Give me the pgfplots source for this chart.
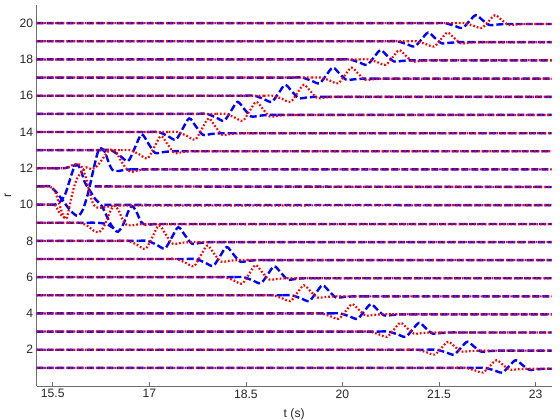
\documentclass[border=0pt]{standalone}
\usepackage{pgfplots}
\pgfplotsset{compat=1.18}
\usepackage{fontspec}
\setmainfont{Liberation Sans}
\definecolor{axgray}{RGB}{110,110,110}
\definecolor{txt}{RGB}{38,38,38}
\begin{document}
\begin{tikzpicture}
\tikzset{bl/.style={color=blue, line width=2.4bp, dash pattern=on 7bp off 3bp},
         rd/.style={color=red, line width=2.2bp, dash pattern=on 1.7bp off 2bp}}
\begin{axis}[
 scale only axis, width=515bp, height=381bp,
 xmin=15.25, xmax=23.25, ymin=0, ymax=21,
 axis lines*=left,
 axis line style={axgray, line width=0.8bp},
 xtick={15.5,17,18.5,20,21.5,23},
 xticklabels={15.5,17,18.5,20,21.5,23},
 ytick={2,4,...,20},
 tick align=inside,
 major tick length=4bp,
 tick style={axgray, line width=0.8bp},
 ticklabel style={font=\fontsize{12.2}{14}\selectfont, text=txt},
 /pgf/number format/assume math mode=true,
 xlabel={t (s)}, ylabel={r},
 label style={font=\fontsize{12.2}{14}\selectfont, text=txt},
 xlabel style={at={(axis description cs:0.5,-0.074)}, anchor=center},
 ylabel style={at={(axis description cs:-0.056,0.5)}, anchor=center},
 unbounded coords=jump,
 clip=true,
 no markers,
]
% ---------------- blue flat segments
\addplot[bl] coordinates {
(15.25,1) (22.07,1) (16,nan)
(15.25,2) (21.32,2) (16,nan) (22.56,1.95) (23.4,1.95) (16,nan)
(15.25,3) (20.57,3) (16,nan) (21.81,2.95) (23.4,2.95) (16,nan)
(15.25,4) (19.82,4) (16,nan) (21.06,3.95) (23.4,3.95) (16,nan)
(15.25,5) (19.07,5) (16,nan) (20.31,4.94) (23.4,4.94) (16,nan)
(15.25,6) (18.32,6) (16,nan) (19.56,5.94) (23.4,5.94) (16,nan)
(15.25,7) (17.58,7) (16,nan) (18.82,6.94) (23.4,6.94) (16,nan)
(15.25,8) (16.83,8) (16,nan) (18.07,7.93) (23.4,7.93) (16,nan)
(15.25,9) (16.05,9) (16,nan) (17.15,8.93) (23.4,8.93) (16,nan)
(15.25,10) (15.45,10) (16,nan) (16.30,9.98) (23.4,9.97) (16,nan)
(15.25,11) (15.35,11) (16,nan) (16.15,11.0) (23.4,10.97) (16,nan)
(15.25,12) (15.50,12) (16,nan) (16.72,11.94) (23.4,11.94) (16,nan)
(15.25,13) (16.26,13) (16,nan) (17.50,12.94) (23.4,12.94) (16,nan)
(15.25,14) (17.00,14) (16,nan) (18.24,13.93) (23.4,13.93) (16,nan)
(15.25,15) (17.75,15) (16,nan) (18.99,14.94) (23.4,14.94) (16,nan)
(15.25,16) (18.49,16) (16,nan) (19.73,15.94) (23.4,15.94) (16,nan)
(15.25,17) (19.23,17) (16,nan) (20.47,16.94) (23.4,16.94) (16,nan)
(15.25,18) (19.97,18) (16,nan) (21.21,17.95) (23.4,17.95) (16,nan)
(15.25,19) (20.71,19) (16,nan) (21.95,18.95) (23.4,18.95) (16,nan)
(15.25,20) (21.45,20) (16,nan) (22.69,19.95) (23.4,19.95)
};
% ---------------- blue packets
\addplot[bl, smooth] coordinates {(16.26,13) (16.40,13) (16.54,12.7) (16.67,12.4) (16.775,13.135) (16.88,13.87) (16.985,13.36) (17.09,12.85) (17.22,12.895) (17.36,12.94) (17.50,12.94)};
\addplot[bl, smooth] coordinates {(17.00,14) (17.14,14) (17.28,13.79) (17.41,13.58) (17.515,14.165) (17.62,14.75) (17.725,14.30) (17.83,13.85) (17.96,13.89) (18.10,13.93) (18.24,13.93)};
\addplot[bl, smooth] coordinates {(17.75,15) (17.89,15) (18.03,14.81) (18.16,14.62) (18.265,15.14) (18.37,15.66) (18.475,15.26) (18.58,14.86) (18.71,14.90) (18.85,14.94) (18.99,14.94)};
\addplot[bl, smooth] coordinates {(18.49,16) (18.63,16) (18.77,15.83) (18.90,15.66) (19.005,16.13) (19.11,16.60) (19.215,16.235) (19.32,15.87) (19.45,15.905) (19.59,15.94) (19.73,15.94)};
\addplot[bl, smooth] coordinates {(19.23,17) (19.37,17) (19.51,16.84) (19.64,16.68) (19.745,17.115) (19.85,17.55) (19.955,17.215) (20.06,16.88) (20.19,16.91) (20.33,16.94) (20.47,16.94)};
\addplot[bl, smooth] coordinates {(19.97,18) (20.11,18) (20.25,17.85) (20.38,17.70) (20.485,18.105) (20.59,18.51) (20.695,18.20) (20.80,17.89) (20.93,17.92) (21.07,17.95) (21.21,17.95)};
\addplot[bl, smooth] coordinates {(20.71,19) (20.85,19) (20.99,18.855) (21.12,18.71) (21.225,19.095) (21.33,19.48) (21.435,19.185) (21.54,18.89) (21.67,18.92) (21.81,18.95) (21.95,18.95)};
\addplot[bl, smooth] coordinates {(21.45,20) (21.59,20) (21.73,19.865) (21.86,19.73) (21.965,20.085) (22.07,20.44) (22.175,20.17) (22.28,19.90) (22.41,19.925) (22.55,19.95) (22.69,19.95)};
\addplot[bl, smooth] coordinates {(16.83,8) (16.97,8) (17.11,7.79) (17.24,7.58) (17.345,8.165) (17.45,8.75) (17.555,8.30) (17.66,7.85) (17.79,7.89) (17.93,7.93) (18.07,7.93)};
\addplot[bl, smooth] coordinates {(17.58,7) (17.72,7) (17.86,6.81) (17.99,6.62) (18.095,7.14) (18.20,7.66) (18.305,7.26) (18.41,6.86) (18.54,6.90) (18.68,6.94) (18.82,6.94)};
\addplot[bl, smooth] coordinates {(18.32,6) (18.46,6) (18.60,5.83) (18.73,5.66) (18.835,6.13) (18.94,6.60) (19.045,6.235) (19.15,5.87) (19.28,5.905) (19.42,5.94) (19.56,5.94)};
\addplot[bl, smooth] coordinates {(19.07,5) (19.21,5) (19.35,4.84) (19.48,4.68) (19.585,5.115) (19.69,5.55) (19.795,5.215) (19.90,4.88) (20.03,4.91) (20.17,4.94) (20.31,4.94)};
\addplot[bl, smooth] coordinates {(19.82,4) (19.96,4) (20.10,3.85) (20.23,3.70) (20.335,4.105) (20.44,4.51) (20.545,4.20) (20.65,3.89) (20.78,3.92) (20.92,3.95) (21.06,3.95)};
\addplot[bl, smooth] coordinates {(20.57,3) (20.71,3) (20.85,2.855) (20.98,2.71) (21.085,3.095) (21.19,3.48) (21.295,3.185) (21.40,2.89) (21.53,2.92) (21.67,2.95) (21.81,2.95)};
\addplot[bl, smooth] coordinates {(21.32,2) (21.46,2) (21.60,1.865) (21.73,1.73) (21.835,2.085) (21.94,2.44) (22.045,2.17) (22.15,1.90) (22.28,1.925) (22.42,1.95) (22.56,1.95)};
\addplot[bl, smooth] coordinates {(22.07,1) (22.21,1) (22.35,0.87) (22.48,0.74) (22.585,1.08) (22.69,1.42) (22.795,1.16) (22.90,0.90) (23.03,0.925) (23.17,0.95) (23.31,0.95)};
% source region, blue
\addplot[bl, smooth] coordinates {(15.35,11) (15.45,11) (15.55,10.7) (15.66,10.2) (15.78,9.65) (15.89,9.37) (15.97,9.75) (16.05,10.66) (16.13,11.9) (16.20,12.9) (16.25,13.1) (16.31,12.9) (16.37,12.3) (16.43,11.9) (16.52,11.85) (16.62,11.92) (16.72,11.94)};
\addplot[bl, smooth] coordinates {(15.45,10) (15.53,10) (15.61,10.15) (15.69,10.55) (15.76,11.3) (15.82,11.95) (15.875,12.2) (15.93,11.95) (16.00,11.2) (16.08,10.75) (16.16,10.3) (16.26,9.93) (16.34,9.35) (16.42,8.8) (16.51,8.5) (16.60,8.95) (16.67,9.6) (16.73,9.92) (16.80,9.6) (16.87,9.05) (16.95,8.88) (17.05,8.92) (17.15,8.93)};
\addplot[bl, smooth] coordinates {(16.05,9) (16.15,9) (16.25,8.98) (16.35,8.9) (16.45,8.68)};
\addplot[bl, smooth] coordinates {(15.50,12) (15.60,12) (15.70,12.02) (15.78,12.1) (15.86,12.18)};
% ---------------- red flat segments
\addplot[rd] coordinates {
(15.25,1) (21.77,1) (16,nan) (23.01,0.95) (23.4,0.95) (16,nan)
(15.25,2) (21.02,2) (16,nan) (22.26,1.95) (23.4,1.95) (16,nan)
(15.25,3) (20.28,3) (16,nan) (21.52,2.95) (23.4,2.95) (16,nan)
(15.25,4) (19.53,4) (16,nan) (20.77,3.95) (23.4,3.95) (16,nan)
(15.25,5) (18.78,5) (16,nan) (20.02,4.94) (23.4,4.94) (16,nan)
(15.25,6) (18.03,6) (16,nan) (19.27,5.94) (23.4,5.94) (16,nan)
(15.25,7) (17.28,7) (16,nan) (18.52,6.94) (23.4,6.94) (16,nan)
(15.25,8) (16.53,8) (16,nan) (17.77,7.93) (23.4,7.93) (16,nan)
(15.25,9) (15.75,9) (16,nan) (16.92,8.92) (23.4,8.92) (16,nan)
(15.25,10) (15.30,10) (16,nan) (16.53,9.95) (23.4,9.96) (16,nan)
(15.25,11) (15.35,11) (16,nan) (16.18,11.0) (23.4,10.97) (16,nan)
(15.25,12) (15.45,12) (16,nan) (17.02,11.94) (23.4,11.94) (16,nan)
(15.25,13) (16.56,13) (16,nan) (17.80,12.94) (23.4,12.94) (16,nan)
(15.25,14) (17.30,14) (16,nan) (18.54,13.93) (23.4,13.93) (16,nan)
(15.25,15) (18.04,15) (16,nan) (19.28,14.94) (23.4,14.94) (16,nan)
(15.25,16) (18.78,16) (16,nan) (20.02,15.94) (23.4,15.94) (16,nan)
(15.25,17) (19.52,17) (16,nan) (20.76,16.94) (23.4,16.94) (16,nan)
(15.25,18) (20.26,18) (16,nan) (21.50,17.95) (23.4,17.95) (16,nan)
(15.25,19) (21.01,19) (16,nan) (22.25,18.95) (23.4,18.95) (16,nan)
(15.25,20) (21.75,20) (16,nan) (22.99,19.95) (23.4,19.95)
};
% ---------------- red packets
\addplot[rd, smooth] coordinates {(16.56,13) (16.70,13) (16.84,12.775) (16.97,12.55) (17.075,13.16) (17.18,13.77) (17.285,13.31) (17.39,12.85) (17.52,12.895) (17.66,12.94) (17.80,12.94)};
\addplot[rd, smooth] coordinates {(17.30,14) (17.44,14) (17.58,13.79) (17.71,13.58) (17.815,14.165) (17.92,14.75) (18.025,14.30) (18.13,13.85) (18.26,13.89) (18.40,13.93) (18.54,13.93)};
\addplot[rd, smooth] coordinates {(18.04,15) (18.18,15) (18.32,14.81) (18.45,14.62) (18.555,15.14) (18.66,15.66) (18.765,15.26) (18.87,14.86) (19.00,14.90) (19.14,14.94) (19.28,14.94)};
\addplot[rd, smooth] coordinates {(18.78,16) (18.92,16) (19.06,15.83) (19.19,15.66) (19.295,16.13) (19.40,16.60) (19.505,16.235) (19.61,15.87) (19.74,15.905) (19.88,15.94) (20.02,15.94)};
\addplot[rd, smooth] coordinates {(19.52,17) (19.66,17) (19.80,16.84) (19.93,16.68) (20.035,17.115) (20.14,17.55) (20.245,17.215) (20.35,16.88) (20.48,16.91) (20.62,16.94) (20.76,16.94)};
\addplot[rd, smooth] coordinates {(20.26,18) (20.40,18) (20.54,17.85) (20.67,17.70) (20.775,18.105) (20.88,18.51) (20.985,18.20) (21.09,17.89) (21.22,17.92) (21.36,17.95) (21.50,17.95)};
\addplot[rd, smooth] coordinates {(21.01,19) (21.15,19) (21.29,18.855) (21.42,18.71) (21.525,19.095) (21.63,19.48) (21.735,19.185) (21.84,18.89) (21.97,18.92) (22.11,18.95) (22.25,18.95)};
\addplot[rd, smooth] coordinates {(21.75,20) (21.89,20) (22.03,19.865) (22.16,19.73) (22.265,20.085) (22.37,20.44) (22.475,20.17) (22.58,19.90) (22.71,19.925) (22.85,19.95) (22.99,19.95)};
\addplot[rd, smooth] coordinates {(16.53,8) (16.67,8) (16.81,7.78) (16.94,7.56) (17.045,8.20) (17.15,8.85) (17.255,8.35) (17.36,7.85) (17.49,7.89) (17.63,7.93) (17.77,7.93)};
\addplot[rd, smooth] coordinates {(17.28,7) (17.42,7) (17.56,6.8) (17.69,6.6) (17.795,7.17) (17.90,7.74) (18.005,7.30) (18.11,6.86) (18.24,6.90) (18.38,6.94) (18.52,6.94)};
\addplot[rd, smooth] coordinates {(18.03,6) (18.17,6) (18.31,5.82) (18.44,5.64) (18.545,6.15) (18.65,6.66) (18.755,6.26) (18.86,5.87) (18.99,5.905) (19.13,5.94) (19.27,5.94)};
\addplot[rd, smooth] coordinates {(18.78,5) (18.92,5) (19.06,4.84) (19.19,4.68) (19.295,5.115) (19.40,5.55) (19.505,5.215) (19.61,4.88) (19.74,4.91) (19.88,4.94) (20.02,4.94)};
\addplot[rd, smooth] coordinates {(19.53,4) (19.67,4) (19.81,3.85) (19.94,3.70) (20.045,4.105) (20.15,4.51) (20.255,4.20) (20.36,3.89) (20.49,3.92) (20.63,3.95) (20.77,3.95)};
\addplot[rd, smooth] coordinates {(20.28,3) (20.42,3) (20.56,2.855) (20.69,2.71) (20.795,3.095) (20.90,3.48) (21.005,3.185) (21.11,2.89) (21.24,2.92) (21.38,2.95) (21.52,2.95)};
\addplot[rd, smooth] coordinates {(21.02,2) (21.16,2) (21.30,1.865) (21.43,1.73) (21.535,2.085) (21.64,2.44) (21.745,2.17) (21.85,1.90) (21.98,1.925) (22.12,1.95) (22.26,1.95)};
\addplot[rd, smooth] coordinates {(21.77,1) (21.91,1) (22.05,0.87) (22.18,0.74) (22.285,1.08) (22.39,1.42) (22.495,1.16) (22.60,0.90) (22.73,0.925) (22.87,0.95) (23.01,0.95)};
% source region, red
\addplot[rd, smooth] coordinates {(15.35,11) (15.45,11) (15.53,10.75) (15.59,10.15) (15.65,9.5) (15.71,9.22) (15.76,9.9) (15.82,10.85) (15.88,11.45) (15.95,11.8) (16.02,12.05) (16.10,11.95) (16.18,12.1) (16.27,12.5) (16.35,12.9) (16.42,13.05) (16.49,12.85) (16.57,12.35) (16.65,11.95) (16.73,11.8) (16.82,11.88) (16.92,11.93) (17.02,11.94)};
\addplot[rd, smooth] coordinates {(15.45,12) (15.55,12) (15.65,12) (15.73,12.03) (15.80,12.17) (15.86,12.23) (15.92,12.2) (15.97,11.95) (16.02,11.4) (16.07,10.7) (16.12,10.1) (16.17,9.86) (16.24,9.82) (16.33,9.87) (16.43,9.93) (16.53,9.95)};
\addplot[rd, smooth] coordinates {(15.30,10) (15.40,10) (15.48,10) (15.54,9.95) (15.61,9.5) (15.68,9.28) (15.72,9.24)};
\addplot[rd, smooth] coordinates {(15.75,9) (15.85,9) (15.95,8.97) (16.05,8.8) (16.14,8.55) (16.22,8.48) (16.29,8.75) (16.36,9.35) (16.41,9.75) (16.46,9.92) (16.52,9.7) (16.58,9.2) (16.64,8.9) (16.72,8.85) (16.82,8.9) (16.92,8.92)};
\end{axis}
\pgfresetboundingbox
\path (current axis.south west) ++(-36.7bp,-34bp) rectangle ++(560bp,420bp);
\end{tikzpicture}
\end{document}
